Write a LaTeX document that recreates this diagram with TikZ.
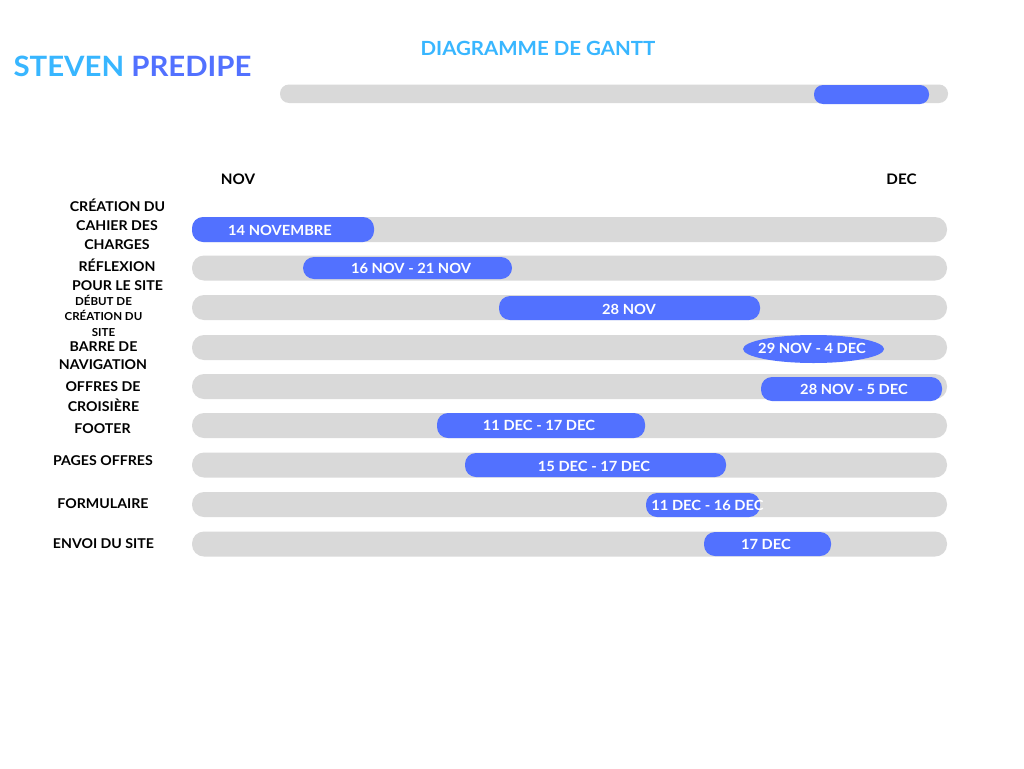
\documentclass[tikz,border=0pt]{standalone}
\usepackage{fontspec}
\setmainfont[FakeStretch=1.05]{Lato}
\definecolor{lblue}{HTML}{38B6FF}
\definecolor{dblue}{HTML}{5271FF}
\definecolor{bargray}{HTML}{D9D9D9}
\begin{document}
\begin{tikzpicture}[x=1pt,y=-1pt,
  graybar/.style={fill=bargray, rounded corners=12pt},
  bluebar/.style={fill=dblue, rounded corners=11pt},
  bartext/.style={text=white, font=\bfseries\fontsize{14}{14}\selectfont, inner sep=0pt, text height=10pt, text depth=0pt},
  task/.style={font=\bfseries\fontsize{13.5}{13.5}\selectfont, inner sep=0pt, text height=9.6pt, text depth=0pt},
  smalltask/.style={font=\bfseries\fontsize{11}{11}\selectfont, inner sep=0pt, text height=7.9pt, text depth=0pt},
  month/.style={font=\bfseries\fontsize{14.5}{14.5}\selectfont, inner sep=0pt, text height=10.4pt, text depth=0pt},
  bigtitle/.style={font=\bfseries\fontsize{28}{28}\selectfont, inner sep=0pt, text height=20pt, text depth=0pt},
  subtitle/.style={text=lblue, font=\bfseries\fontsize{19.5}{19.5}\selectfont, inner sep=0pt, text height=14pt, text depth=0pt}]
\useasboundingbox[fill=white] (0,0) rectangle (1024,768);

% titles
\node[bigtitle] (name) at (132.5,66.5) {\textcolor{lblue}{STEVEN} \textcolor{dblue}{PREDIPE}};
\node[subtitle] (gantt) at (538,49) {DIAGRAMME DE GANTT};

% top progress bar
\fill[graybar, rounded corners=9pt] (280,84.5) rectangle (948,103);
\fill[bluebar, rounded corners=9pt] (814,85) rectangle (929,104);

% months
\node[month] (nov) at (238,179) {NOV};
\node[month] (dec) at (901.5,179) {DEC};

% gray rows
\foreach \y in {229.5,268,307.5,347.5,386.5,425.5,465,504.5,544}{
  \fill[graybar] (192,\y-12.5) rectangle (947,\y+12.5);
}

% blue bars
\fill[bluebar] (192,217) rectangle (374,242);
\node[bartext] (t1) at (280,230) {14 NOVEMBRE};

\fill[bluebar] (303,257) rectangle (512,279);
\node[bartext] (t2) at (411,268) {16 NOV - 21 NOV};

\fill[bluebar] (499,296) rectangle (760,320);
\node[bartext] (t3) at (629,309) {28 NOV};

\fill[dblue] (813.5,349) ellipse [x radius=70.5pt, y radius=14pt];
\node[bartext] (t4) at (812,348.5) {29 NOV - 4 DEC};

\fill[bluebar] (761,377) rectangle (942,401);
\node[bartext] (t5) at (854,389) {28 NOV - 5 DEC};

\fill[bluebar] (437,413) rectangle (645,438);
\node[bartext] (t6) at (539,425) {11 DEC - 17 DEC};

\fill[bluebar] (465,453) rectangle (726,477);
\node[bartext] (t7) at (594,466) {15 DEC - 17 DEC};

\fill[bluebar] (646,493) rectangle (760,517);
\node[bartext] (t8) at (707.5,505) {11 DEC - 16 DEC};

\fill[bluebar] (704,532) rectangle (831,556);
\node[bartext] (t9) at (766,544) {17 DEC};

% task labels
\node[task] (l1a) at (117.5,207) {CRÉATION DU};
\node[task] (l1b) at (117,226) {CAHIER DES};
\node[task] (l1c) at (117,245) {CHARGES};
\node[task] (l2a) at (117,267) {RÉFLEXION};
\node[task] (l2b) at (117.5,286) {POUR LE SITE};
\node[smalltask] (l3a) at (103.5,302) {DÉBUT DE};
\node[smalltask] (l3b) at (103.5,317) {CRÉATION DU};
\node[smalltask] (l3c) at (103.5,333) {SITE};
\node[task] (l4a) at (103.5,347) {BARRE DE};
\node[task] (l4b) at (103,365) {NAVIGATION};
\node[task] (l5a) at (103,387) {OFFRES DE};
\node[task] (l5b) at (103.5,407) {CROISIÈRE};
\node[task] (l6) at (102.5,429) {FOOTER};
\node[task] (l7) at (103,461) {PAGES OFFRES};
\node[task] (l8) at (103,504) {FORMULAIRE};
\node[task] (l9) at (103.5,544) {ENVOI DU SITE};
\end{tikzpicture}
\end{document}
